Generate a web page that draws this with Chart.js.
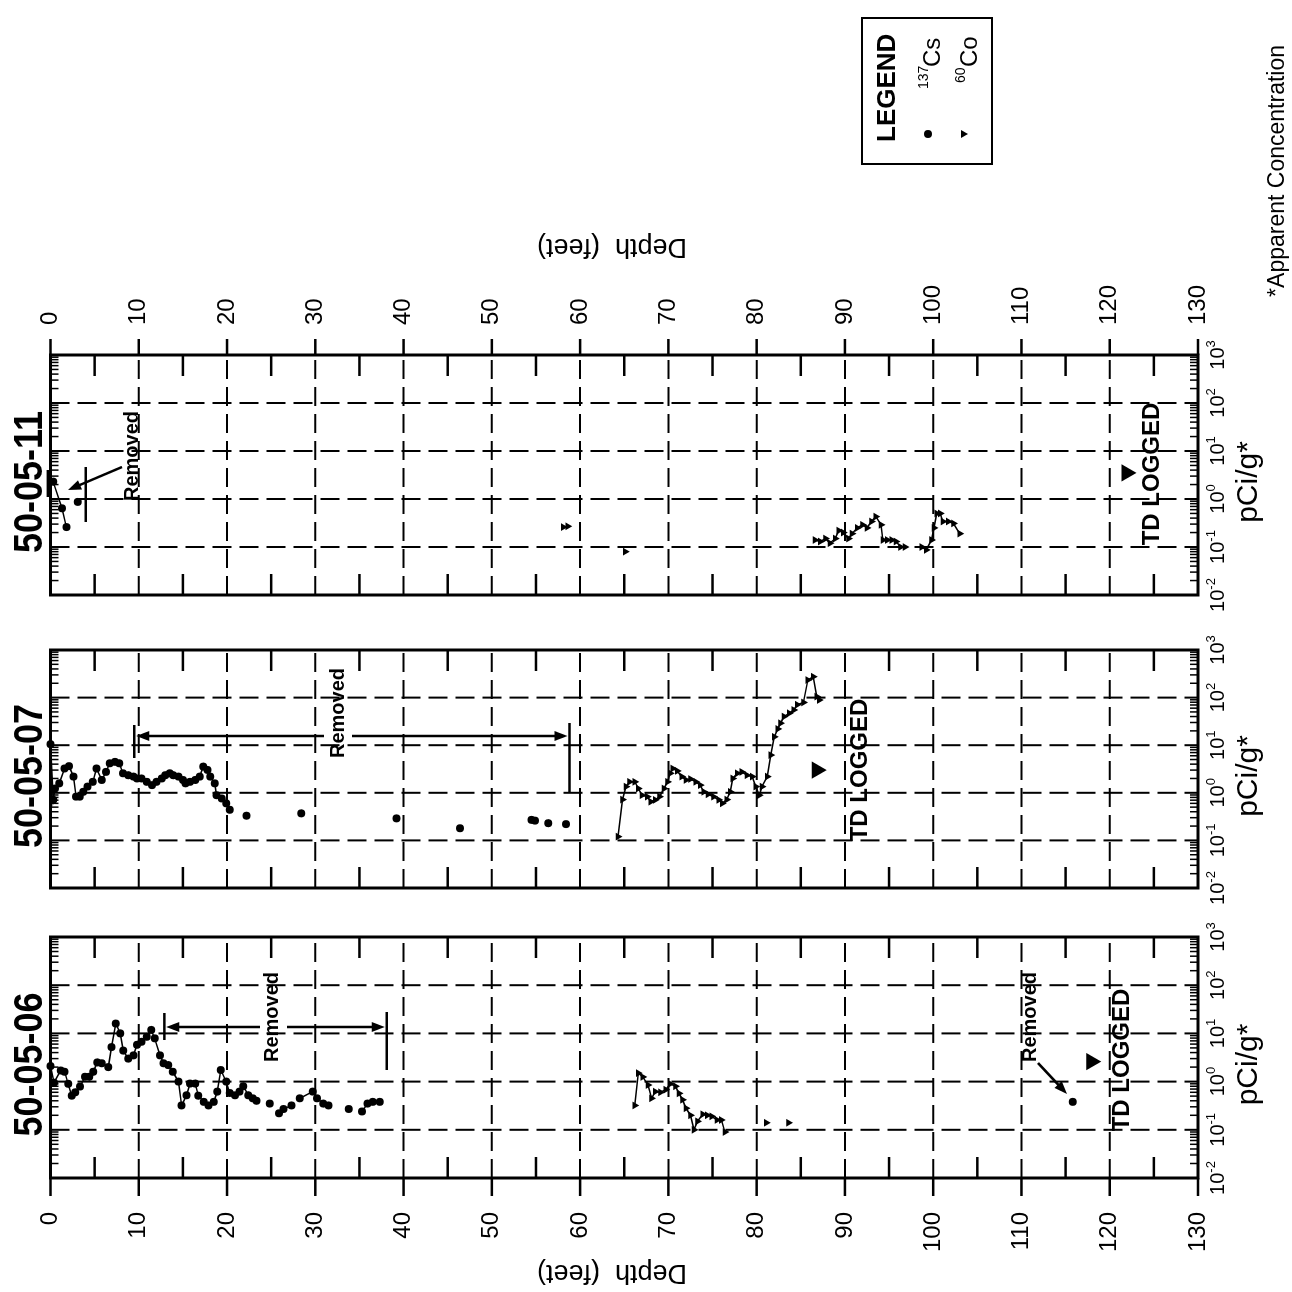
<!DOCTYPE html>
<html lang="en">
<head>
<meta charset="UTF-8" />
<title>Gamma logs 50-05-06, 50-05-07, 50-05-11</title>
<script src="https://cdn.jsdelivr.net/npm/chart.js@4.4.1/dist/chart.umd.min.js"></script>
<style>
  body { margin: 0; background: #fff; }
  /* the figure is laid out upright and then turned on its side like the source page */
  #fig { position: relative; width: 1292px; height: 1292px; background: #fff; transform: rotate(-90deg); }
  #fig canvas { position: absolute; left: 0; top: 0; }
</style>
</head>
<body>
<div id="fig">
  <canvas id="log06" width="1292" height="1292"></canvas>
  <canvas id="log07" width="1292" height="1292"></canvas>
  <canvas id="log11" width="1292" height="1292"></canvas>
</div>
<script>
// ---- axes ----
const depthTicks = [0, 10, 20, 30, 40, 50, 60, 70, 80, 90, 100, 110, 120, 130];
const concTicks = [0.01, 0.1, 1, 10, 100, 1000];
const concExponents = ['-2', '-1', '0', '1', '2', '3'];
const wellNames = ['50-05-06', '50-05-07', '50-05-11'];

// ---- 50-05-06 ----  (null = break in the trace)
const w06CsDepth = [0.0, 0.4, 1.15, 1.6, 2.0, 2.4, 2.8, 3.35, 3.9, 4.4, 4.85, 5.3, 5.8, 6.55, 6.9, 7.4, 7.9, 8.25, 8.8, 9.4,
  9.8, 10.3, 10.9, 11.4, 11.8, 12.4, 12.8, 13.35, 13.85, 14.5, 14.85, 15.4, 15.8, 16.4, 16.75, 17.35, 17.9, 18.5, 18.9, 19.3,
  19.9, 20.3, 20.9, 21.4, 21.85, 22.4, 22.9, 23.35, null, 24.85, null, 25.9, 26.4, 27.3, null, 28.25, 29.7, 30.2, 30.9, 31.5,
  null, 33.8, null, 35.3, 35.9, 36.5, 37.3, null, 115.8];
const w06CsConc = [2.1, 0.95, 1.7, 1.6, 0.9, 0.51, 0.6, 0.79, 1.26, 1.26, 1.6, 2.5, 2.4, 2.0, 5.2, 16, 10, 4.4, 3.0, 3.5,
  5.8, 6.7, 8.5, 11.8, 7.9, 3.5, 2.4, 2.2, 1.6, 1.0, 0.32, 0.52, 0.91, 0.91, 0.51, 0.38, 0.32, 0.38, 0.62, 1.74,
  1.0, 0.58, 0.52, 0.62, 0.8, 0.52, 0.45, 0.4, null, 0.35, null, 0.22, 0.27, 0.32, null, 0.45, 0.62, 0.45, 0.35, 0.32,
  null, 0.27, null, 0.24, 0.35, 0.38, 0.38, null, 0.38];
const w06CoDepth = [66.2, 66.6, 67.1, 67.7, 68.1, 68.5, 69.1, 69.7, 70.2, 70.8, 71.2, 71.6, 72.0, 72.5, 72.9, 73.3, 73.9,
  74.4, 74.9, 75.5, 76.0, 76.4, null, 81.1, null, 83.6];
const w06CoConc = [0.32, 1.5, 1.25, 0.85, 0.45, 0.62, 0.6, 0.68, 0.9, 0.8, 0.57, 0.42, 0.28, 0.2, 0.1, 0.15, 0.21,
  0.2, 0.19, 0.16, 0.16, 0.09, null, 0.14, null, 0.14];

// ---- 50-05-07 ----
const w07CsDepth = [0, 0.3, 0.5, 1.0, 1.6, 2.1, 2.6, 2.9, 3.3, 3.7, 4.2, 4.8, 5.2, 5.8, 6.3, 6.7, 7.3, 7.8, 8.2, 8.8,
  9.4, 9.8, 10.3, 10.9, 11.5, 12.0, 12.6, 13.0, 13.5, 13.9, 14.5, 15.0, 15.3, 15.8, 16.4, 16.9, 17.3, 17.8, 18.1, 18.6,
  18.8, 19.4, 19.9, 20.3, null, 22.2, null, 28.4, null, 39.2, null, 46.4, null, 54.5, 54.9, null, 56.4, null, 58.4];
const w07CsConc = [10.5, 0.71, 1.23, 1.58, 3.24, 3.63, 2.19, 0.83, 0.83, 1.05, 1.35, 1.7, 3.24, 1.86, 2.75, 4.17, 4.47, 4.17, 2.57, 2.34,
  2.19, 2.0, 2.0, 1.7, 1.45, 1.7, 2.0, 2.34, 2.57, 2.34, 2.19, 1.86, 1.58, 1.7, 1.86, 2.19, 3.55, 3.02, 2.19, 1.58,
  0.89, 0.76, 0.6, 0.44, null, 0.33, null, 0.37, null, 0.29, null, 0.18, null, 0.27, 0.26, null, 0.23, null, 0.22];
const w07CoDepth = [64.3, 64.8, 65.2, 65.6, 66.2, 66.6, 67.0, 67.6, 68.0, 68.5, 69.0, 69.5, 69.9, 70.2, 70.5, 71.0, 71.5,
  72.0, 72.5, 73.1, 73.6, 74.0, 74.5, 75.1, 75.7, 76.1, 76.6, 77.0, 77.3, 77.8, 78.3, 78.9, 79.5, 79.9, 80.3, 80.6,
  81.2, 81.6, 82.0, 82.4, 82.7, 83.1, 83.7, 84.2, 84.6, 85.3, 85.8, 86.4, 86.8, 87.1];
const w07CoConc = [0.12, 0.72, 1.35, 1.7, 1.7, 1.23, 0.89, 0.83, 0.65, 0.71, 0.83, 1.23, 1.7, 2.57, 3.24, 2.88, 2.19,
  1.86, 1.95, 1.7, 1.45, 1.05, 0.93, 0.83, 0.71, 0.6, 0.72, 1.05, 2.0, 2.57, 2.75, 2.34, 2.19, 1.35, 0.89, 1.35,
  2.19, 6.2, 15, 22, 29, 40, 47, 55, 71, 79, 234, 275, 105, 89];

// ---- 50-05-11 ----
const w11CsDepth = [0.3, 1.3, 1.8, null, 3.1];
const w11CsConc = [2.3, 0.64, 0.26, null, 0.87];
const w11CoDepth = [58.1, 58.6, null, 65.1, null, 86.6, 87.2, 87.8, 88.3, 88.9, 89.3, 89.8, 90.4, 90.8, 91.4, 92.0, 92.5,
  93.0, 93.5, 94.1, 94.3, 94.8, 95.3, 95.8, 96.3, 96.8, null, 98.7, 99.2, 99.8, 100.1, 100.4, 100.8, 101.1, 101.7, 102.3, 103.0];
const w11CoConc = [0.26, 0.27, null, 0.08, null, 0.14, 0.13, 0.15, 0.12, 0.15, 0.22, 0.2, 0.15, 0.19, 0.25, 0.29, 0.25,
  0.34, 0.43, 0.29, 0.14, 0.14, 0.14, 0.13, 0.1, 0.1, null, 0.1, 0.087, 0.14, 0.25, 0.5, 0.5, 0.34, 0.34, 0.31, 0.19];

// total depth logged marker, one per well
const tdDepth = [117.9, 86.8, 121.9];
const tdConc = [2.6, 3.0, 3.5];

// ---- layout (upright coordinates, before the page turn) ----
const W = 1292, TOP = 50.5, BOTTOM = 1198;
const FONT = '"Liberation Sans", Arial, Helvetica, sans-serif';

function pts(depths, conc) {
  return depths.map((d, i) => ({ x: conc[i], y: d }));
}
function csSet(depths, conc) {
  return { data: pts(depths, conc), showLine: true, borderColor: '#000', borderWidth: 1.5,
    pointStyle: 'circle', pointRadius: 4, pointBackgroundColor: '#000', pointBorderWidth: 0, clip: false };
}
function coSet(depths, conc) {
  return { data: pts(depths, conc), showLine: true, borderColor: '#000', borderWidth: 1.5,
    pointStyle: 'triangle', pointRotation: 180, pointRadius: 4.5, pointBackgroundColor: '#000', pointBorderWidth: 0, clip: false };
}
function tdSet(i) {
  return { data: [{ x: tdConc[i], y: tdDepth[i] }], showLine: false, pointStyle: 'triangle', pointRotation: 180,
    pointRadius: 10, pointBackgroundColor: '#000', pointBorderWidth: 0, clip: false };
}

function seg(ctx, x1, y1, x2, y2) {
  ctx.beginPath(); ctx.moveTo(x1, y1); ctx.lineTo(x2, y2); ctx.stroke();
}
function arrow(ctx, x1, y1, x2, y2) {
  const a = Math.atan2(y2 - y1, x2 - x1), L = 13, H = 5;
  const c = Math.cos(a), s = Math.sin(a);
  seg(ctx, x1, y1, x2 - L * 0.7 * c, y2 - L * 0.7 * s);
  ctx.beginPath();
  ctx.moveTo(x2, y2);
  ctx.lineTo(x2 - L * c + H * s, y2 - L * s - H * c);
  ctx.lineTo(x2 - L * c - H * s, y2 - L * s + H * c);
  ctx.closePath(); ctx.fill();
}
function label(ctx, str, x, y, size, bold, align) {
  ctx.font = (bold ? 'bold ' : '') + size + 'px ' + FONT;
  ctx.textAlign = align || 'center';
  ctx.textBaseline = 'middle';
  ctx.fillText(str, x, y);
}
function pow10(ctx, exp, x, y) {
  ctx.font = '20px ' + FONT;
  const w1 = ctx.measureText('10').width;
  ctx.font = '13px ' + FONT;
  const w2 = ctx.measureText(exp).width;
  const x0 = x - (w1 + w2) / 2;
  ctx.textAlign = 'left'; ctx.textBaseline = 'alphabetic';
  ctx.font = '20px ' + FONT;
  ctx.fillText('10', x0, y);
  ctx.font = '13px ' + FONT;
  ctx.fillText(exp, x0 + w1, y - 9);
}

function panelPlugin(cfg) {
  return {
    id: 'panel' + cfg.idx,
    beforeDatasetsDraw(chart) {
      const { ctx, chartArea: a } = chart;
      const sx = chart.scales.x, sy = chart.scales.y;
      ctx.save();
      ctx.strokeStyle = '#000'; ctx.fillStyle = '#000';
      // dashed grid
      ctx.lineWidth = 2;
      ctx.setLineDash([19, 8]);
      concTicks.slice(1, -1).forEach(v => { const px = sx.getPixelForValue(v); seg(ctx, px, a.top, px, a.bottom); });
      depthTicks.slice(1, -1).forEach(d => { const py = sy.getPixelForValue(d); seg(ctx, a.left, py, a.right, py); });
      ctx.setLineDash([]);
      // 5 ft ticks on both sides
      ctx.lineWidth = 2.5;
      depthTicks.slice(0, -1).forEach(d => {
        const py = sy.getPixelForValue(d + 5);
        seg(ctx, a.left, py, a.left + 21, py); seg(ctx, a.right - 21, py, a.right, py);
      });
      // log minor ticks top and bottom
      ctx.lineWidth = 1.5;
      concTicks.slice(0, -1).forEach(v => {
        for (let m = 2; m < 10; m++) {
          const px = sx.getPixelForValue(v * m);
          seg(ctx, px, a.top, px, a.top + 8); seg(ctx, px, a.bottom - 8, px, a.bottom);
        }
      });
      ctx.lineWidth = 3;
      ctx.strokeRect(a.left, a.top, a.right - a.left, a.bottom - a.top);
      // depth axis ticks and labels
      ctx.lineWidth = 2.5;
      if (cfg.depthSide === 'left') {
        depthTicks.forEach(d => { const py = sy.getPixelForValue(d); seg(ctx, a.left - 18, py, a.left, py); label(ctx, String(d), 80, py, 24, false, 'right'); });
      }
      if (cfg.depthSide === 'right') {
        depthTicks.forEach(d => { const py = sy.getPixelForValue(d); seg(ctx, a.right, py, a.right + 16, py); label(ctx, String(d), 967, py, 24, false, 'left'); });
      }
      // concentration labels
      concTicks.forEach((v, i) => pow10(ctx, concExponents[i], sx.getPixelForValue(v), 1224));
      const cx = (a.left + a.right) / 2 - 7;
      label(ctx, 'pCi/g*', cx, 1249, 30, false);
      // well name
      ctx.save();
      ctx.translate(cx, 31); ctx.scale(0.9, 1);
      label(ctx, wellNames[cfg.idx], 0, 0, 40, true);
      ctx.restore();
      ctx.restore();
    },
    afterDatasetsDraw(chart) {
      const { ctx } = chart;
      const sy = chart.scales.y;
      ctx.save();
      ctx.strokeStyle = '#000'; ctx.fillStyle = '#000';
      label(ctx, 'TD LOGGED', cfg.tdX, cfg.tdY, 24, true);
      ctx.lineWidth = 2.5;
      cfg.notes(ctx, sy);
      ctx.restore();
    }
  };
}

function makeChart(id, idx, left, right, sets, cfg) {
  cfg.idx = idx;
  return new Chart(document.getElementById(id), {
    type: 'scatter',
    data: { datasets: sets },
    options: {
      responsive: false, animation: false, devicePixelRatio: 1, events: [],
      layout: { padding: { left: left, right: W - right, top: TOP, bottom: W - BOTTOM } },
      scales: {
        x: { type: 'logarithmic', min: 0.01, max: 1000, display: false },
        y: { type: 'linear', min: 0, max: 130, reverse: true, display: false }
      },
      plugins: { legend: { display: false }, tooltip: { enabled: false } }
    },
    plugins: cfg.extra ? [panelPlugin(cfg), cfg.extra] : [panelPlugin(cfg)]
  });
}

// legend, footnote and depth titles (drawn once, on the last canvas)
const pageText = {
  id: 'pageText',
  afterDraw(chart) {
    const ctx = chart.ctx;
    ctx.save();
    ctx.fillStyle = '#000'; ctx.strokeStyle = '#000';
    [[20, 612], [1046, 612]].forEach(([x, y]) => {
      ctx.save(); ctx.translate(x, y); ctx.rotate(-Math.PI / 2);
      label(ctx, 'Depth  (feet)', 0, 0, 27, false);
      ctx.restore();
    });
    ctx.lineWidth = 2;
    ctx.strokeRect(1128, 862, 146, 130);
    ctx.font = 'bold 26px ' + FONT; ctx.textAlign = 'left'; ctx.textBaseline = 'alphabetic';
    ctx.fillText('LEGEND', 1150, 895);
    ctx.beginPath(); ctx.arc(1158, 928, 4, 0, Math.PI * 2); ctx.fill();
    ctx.beginPath(); ctx.moveTo(1154, 961); ctx.lineTo(1162, 961); ctx.lineTo(1158, 968); ctx.closePath(); ctx.fill();
    ctx.font = '14px ' + FONT;
    ctx.fillText('137', 1203, 928);
    ctx.fillText('60', 1209, 965);
    ctx.font = '24px ' + FONT;
    ctx.fillText('Cs', 1225, 940);
    ctx.fillText('Co', 1225, 977);
    ctx.font = '23px ' + FONT; ctx.textAlign = 'right';
    ctx.fillText('*Apparent Concentration', 1247, 1284);
    ctx.restore();
  }
};

makeChart('log06', 0, 114, 355,
  [csSet(w06CsDepth, w06CsConc), coSet(w06CoDepth, w06CoConc), tdSet(0)],
  { depthSide: 'left', tdX: 232, tdY: 1122,
    notes(ctx, sy) {
      const yt = sy.getPixelForValue(12.9), yb = sy.getPixelForValue(38.1);
      seg(ctx, 252, yt, 279, yt);
      arrow(ctx, 265, 260, 265, yt + 2);
      label(ctx, 'Removed', 275, 272, 20, true);
      arrow(ctx, 265, 287, 265, yb - 2);
      seg(ctx, 222, yb, 280, yb);
      label(ctx, 'Removed', 275, 1030, 20, true);
      arrow(ctx, 229, 1038, 198, 1067);
    } });

makeChart('log07', 1, 404, 642,
  [csSet(w07CsDepth, w07CsConc), coSet(w07CoDepth, w07CoConc), tdSet(1)],
  { depthSide: 'none', tdX: 522, tdY: 860,
    notes(ctx, sy) {
      const yt = sy.getPixelForValue(9.5), yb = sy.getPixelForValue(58.8);
      seg(ctx, 534, yt, 567, yt);
      arrow(ctx, 556, 324, 556, yt + 2);
      label(ctx, 'Removed', 579, 338, 20, true);
      arrow(ctx, 556, 352, 556, yb - 2);
      seg(ctx, 500, yb, 569, yb);
    } });

makeChart('log11', 2, 697, 937,
  [csSet(w11CsDepth, w11CsConc), coSet(w11CoDepth, w11CoConc), tdSet(2)],
  { depthSide: 'right', tdX: 818, tdY: 1152, extra: pageText,
    notes(ctx, sy) {
      const yt = sy.getPixelForValue(-0.3), yb = sy.getPixelForValue(4.0);
      seg(ctx, 795, yt, 822, yt);
      seg(ctx, 770, yb, 825, yb);
      label(ctx, 'Removed', 836, 132, 20, true);
      arrow(ctx, 825, 122, 802, 68);
    } });
</script>
</body>
</html>
